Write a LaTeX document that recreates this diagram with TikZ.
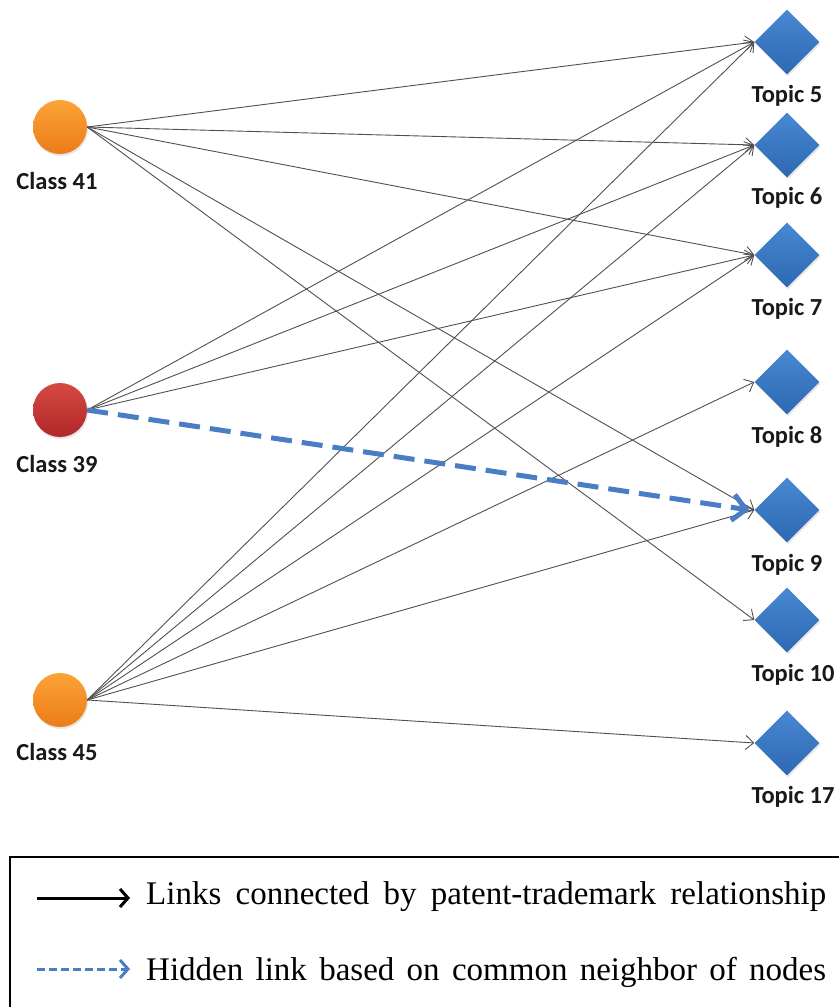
\documentclass[tikz,border=0pt]{standalone}
\usepackage{fontspec}
\setmainfont{Liberation Serif}
\newfontfamily\labfont{Carlito}
\usetikzlibrary{arrows.meta,shapes.geometric,shadows}
\definecolor{orangeTop}{RGB}{251,163,55}
\definecolor{orangeBot}{RGB}{236,124,24}
\definecolor{redTop}{RGB}{214,72,66}
\definecolor{redBot}{RGB}{178,40,40}
\definecolor{blueTop}{RGB}{72,136,210}
\definecolor{blueBot}{RGB}{46,104,178}
\definecolor{linkgray}{RGB}{80,80,80}
\definecolor{hiddenblue}{RGB}{74,126,196}
\begin{document}
\begin{tikzpicture}[x=1pt,y=-1pt,
  cls/.style={circle,minimum size=54pt,inner sep=0pt,draw=none,
    drop shadow={opacity=0.2,shadow xshift=1pt,shadow yshift=-2pt}},
  orangecls/.style={cls,top color=orangeTop,bottom color=orangeBot},
  redcls/.style={cls,top color=redTop,bottom color=redBot},
  topic/.style={diamond,shape aspect=1,minimum width=65pt,minimum height=65pt,
    inner sep=0pt,draw=none,top color=blueTop,bottom color=blueBot,
    drop shadow={opacity=0.2,shadow xshift=1pt,shadow yshift=-2pt}},
  lbl/.style={font=\labfont\bfseries\fontsize{24.5}{24.5}\selectfont,inner sep=0pt,text=black!90},
  link/.style={draw=linkgray,line width=0.9pt,-{Straight Barb[length=8pt,width=14pt]}},
  hidden/.style={draw=hiddenblue,line width=5pt,dash pattern=on 21pt off 10pt,
    -{Straight Barb[length=13pt,width=26pt]}},
  legarrow/.style={line width=3pt,-{Straight Barb[length=8pt,width=18pt]}},
  legtext/.style={anchor=base west,inner sep=0pt,font=\fontsize{33}{33}\selectfont}
]
\useasboundingbox (0,0) rectangle (839,1007);

% class nodes
\node[orangecls] (c41) at (60,127) {};
\node[redcls] (c39) at (60,410) {};
\node[orangecls] (c45) at (60,700) {};
\node[lbl] (l41) at (57,181) {Class 41};
\node[lbl] (l39) at (57,464) {Class 39};
\node[lbl] (l45) at (57,752) {Class 45};

% topic nodes
\node[topic] (t5) at (787,42) {};
\node[topic] (t6) at (787,145) {};
\node[topic] (t7) at (787,255) {};
\node[topic] (t8) at (787,382) {};
\node[topic] (t9) at (787,510) {};
\node[topic] (t10) at (787,620) {};
\node[topic] (t17) at (787,743) {};
\node[lbl] (lt5) at (787,96) {Topic 5};
\node[lbl] (lt6) at (787,198) {Topic 6};
\node[lbl] (lt7) at (787,309) {Topic 7};
\node[lbl] (lt8) at (787,437) {Topic 8};
\node[lbl] (lt9) at (787,565) {Topic 9};
\node[lbl] (lt10) at (793,675) {Topic 10};
\node[lbl] (lt17) at (793,797) {Topic 17};

% links
\foreach \t in {t5,t6,t7,t9,t10} \draw[link] (c41.east) -- (\t.west);
\foreach \t in {t5,t6,t7} \draw[link] (c39.east) -- (\t.west);
\foreach \t in {t5,t6,t7,t8,t9,t17} \draw[link] (c45.east) -- (\t.west);
\draw[hidden] (c39.east) -- ([xshift=-5pt]t9.west);

% legend
\draw[line width=1.6pt] (839,857) -- (10,857) -- (10,1007);
\coordinate (la) at (37,898);
\coordinate (lb) at (130,898);
\coordinate (ha) at (37,969);
\coordinate (hb) at (130,969);
\draw[legarrow] (la) -- (lb);
\draw[legarrow,draw=hiddenblue,dash pattern=on 8pt off 4pt] (ha) -- (hb);
\node[legtext] (lg1) at (146,904) {\makebox[680pt][s]{Links connected by patent-trademark relationship}};
\node[legtext] (lg2) at (146,980) {\makebox[680pt][s]{Hidden link based on common neighbor of nodes}};
\end{tikzpicture}
\end{document}
